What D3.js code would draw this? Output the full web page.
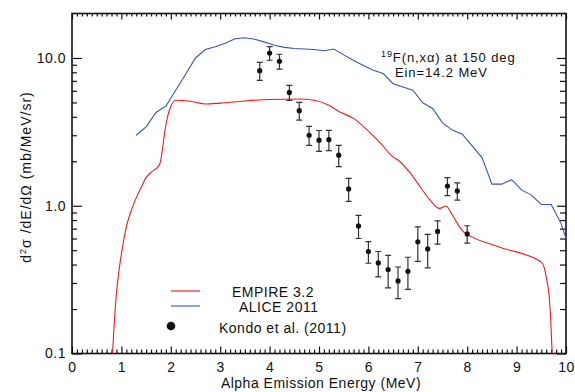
<!DOCTYPE html>
<html>
<head>
<meta charset="utf-8">
<script src="https://cdn.jsdelivr.net/npm/d3@7"></script>
<style>
    body { margin: 0; background: #fff; }
    svg { display: block; font-family: "Liberation Sans", Arial, sans-serif; }
    .lbl { font-size: 14px; fill: #111; letter-spacing: 0.5px; }
    .ann { font-size: 13px; fill: #111; letter-spacing: 0.9px; }
</style>
</head>
<body>
<div id="chart"></div>
<script>
// EMPIRE 3.2 calculation (red)
const empireE = [0.82, 0.86, 0.90, 0.95, 1.0, 1.1, 1.2, 1.3, 1.4, 1.5, 1.6, 1.7, 1.78, 1.83, 1.88, 1.95, 2.0, 2.1,
    2.4, 2.7, 3.0, 3.5, 4.0, 4.6, 4.9, 5.2, 5.4, 5.7, 6.0, 6.25, 6.5, 6.6, 6.85, 7.05, 7.25, 7.44, 7.57, 7.68,
    7.8, 7.92, 8.0, 8.66, 9.5, 9.6, 9.68, 9.72];
const empireXs = [0.1, 0.17, 0.256, 0.36, 0.47, 0.72, 0.93, 1.13, 1.33, 1.55, 1.68, 1.78, 1.93, 2.4, 3.2, 4.2, 4.7, 5.18,
    5.1, 4.88, 4.95, 5.12, 5.24, 5.28, 5.18, 4.79, 4.35, 3.9, 3.2, 2.64, 2.14, 2.04, 1.66, 1.34, 1.09, 0.96, 0.995, 0.89,
    0.76, 0.667, 0.64, 0.524, 0.415, 0.33, 0.197, 0.1];

// ALICE 2011 calculation (blue)
const aliceE = [1.3, 1.5, 1.7, 1.9, 2.1, 2.3, 2.5, 2.7, 2.9, 3.1, 3.3, 3.5, 3.7, 3.9, 4.1, 4.3, 4.5, 4.7, 4.9, 5.1,
    5.3, 5.5, 5.7, 5.9, 6.1, 6.3, 6.5, 6.9, 7.1, 7.3, 7.5, 7.7, 7.9, 8.1, 8.3, 8.5, 8.7, 8.9, 9.1, 9.3, 9.5, 9.7, 9.9, 10.0];
const aliceXs = [3.0, 3.42, 4.28, 4.72, 6.05, 7.76, 10.0, 11.4, 11.9, 12.6, 13.5, 13.7, 13.4, 12.8, 12.2, 11.8, 11.6,
    11.5, 11.4, 11.2, 11.5, 10.5, 9.6, 8.9, 8.26, 7.85, 6.7, 6.05, 4.97, 4.55, 3.64, 3.25, 3.05, 2.54, 2.12, 1.40,
    1.40, 1.50, 1.28, 1.18, 1.02, 1.02, 0.76, 0.60];

// Kondo et al. (2011) measurements
const kondoE = [3.8, 4.0, 4.2, 4.4, 4.6, 4.8, 5.0, 5.2, 5.4, 5.6, 5.8, 6.0, 6.2, 6.4, 6.6, 6.8, 7.0, 7.2, 7.4, 7.6, 7.8, 8.0];
const kondoXs = [8.2, 10.8, 9.5, 5.85, 4.4, 3.0, 2.78, 2.8, 2.2, 1.3, 0.73, 0.49, 0.41, 0.37, 0.31, 0.36, 0.57, 0.51,
    0.67, 1.36, 1.26, 0.645];
const kondoErr = [1.15, 1.15, 1.1, 0.68, 0.6, 0.44, 0.45, 0.44, 0.36, 0.23, 0.13, 0.082, 0.08, 0.092, 0.075, 0.088,
    0.15, 0.13, 0.12, 0.19, 0.17, 0.087];

const xTicks = [0, 1, 2, 3, 4, 5, 6, 7, 8, 9, 10];
const yTicks = [0.1, 1, 10];

const legendItems = ['EMPIRE 3.2', 'ALICE 2011', 'Kondo et al. (2011)'];

const W = 575, H = 392;
const mLeft = 72, mRight = 566, mTop = 13.5, mBottom = 353.5;

const red = '#ee1c1c';
const blue = '#3a55b0';

const svg = d3.select('#chart').append('svg')
    .attr('width', W)
    .attr('height', H);

const x = d3.scaleLinear().domain([0, 10]).range([mLeft, mRight]);
const y = d3.scaleLog().domain([0.1, 20]).range([mBottom, mTop]);

// minor tick values
const xMinor = d3.range(0, 101).map(i => i / 10).filter(v => Math.abs(v - Math.round(v)) > 1e-6);
const yMinor = [0.2, 0.3, 0.4, 0.5, 0.6, 0.7, 0.8, 0.9, 2, 3, 4, 5, 6, 7, 8, 9];

function axisGroup(axis, tx, ty) {
    const g = svg.append('g')
        .attr('transform', 'translate(' + tx + ',' + ty + ')')
        .call(axis);
    g.select('.domain').remove();
    g.selectAll('line').attr('stroke', '#111').attr('stroke-width', 1.2);
    return g;
}

// bottom
const gb = axisGroup(d3.axisBottom(x).tickValues(xTicks).tickSizeInner(-7).tickSizeOuter(0).tickPadding(9)
    .tickFormat(d3.format('d')), 0, mBottom);
gb.selectAll('text').attr('class', 'lbl').attr('font-family', null).attr('font-size', null);
axisGroup(d3.axisBottom(x).tickValues(xMinor).tickSize(-4).tickFormat(''), 0, mBottom);

// top
axisGroup(d3.axisTop(x).tickValues(xTicks).tickSize(-6).tickFormat(''), 0, mTop);
axisGroup(d3.axisTop(x).tickValues(xMinor).tickSize(-3).tickFormat(''), 0, mTop);

// left
const gl = axisGroup(d3.axisLeft(y).tickValues(yTicks).tickSizeInner(-10).tickSizeOuter(0).tickPadding(6)
    .tickFormat(d3.format('.1f')), mLeft, 0);
gl.selectAll('text').attr('class', 'lbl').attr('font-family', null).attr('font-size', null);
axisGroup(d3.axisLeft(y).tickValues(yMinor).tickSize(-5).tickFormat(''), mLeft, 0);

// right
axisGroup(d3.axisRight(y).tickValues(yTicks).tickSize(-9).tickFormat(''), mRight, 0);
axisGroup(d3.axisRight(y).tickValues(yMinor).tickSize(-6).tickFormat(''), mRight, 0);

// frame
svg.append('rect')
    .attr('x', mLeft).attr('y', mTop)
    .attr('width', mRight - mLeft).attr('height', mBottom - mTop)
    .attr('fill', 'none')
    .attr('stroke', '#111')
    .attr('stroke-width', 1.6);

// clip
svg.append('clipPath').attr('id', 'plot-clip')
    .append('rect')
    .attr('x', mLeft).attr('y', mTop)
    .attr('width', mRight - mLeft).attr('height', mBottom - mTop);

const plot = svg.append('g').attr('clip-path', 'url(#plot-clip)');

const redLine = d3.line()
    .x(i => x(empireE[i]))
    .y(i => y(empireXs[i]))
    .curve(d3.curveMonotoneX);

const blueLine = d3.line()
    .x(i => x(aliceE[i]))
    .y(i => y(aliceXs[i]));

plot.append('path')
    .attr('d', blueLine(d3.range(aliceE.length)))
    .attr('fill', 'none')
    .attr('stroke', blue)
    .attr('stroke-width', 1.1);

plot.append('path')
    .attr('d', redLine(d3.range(empireE.length)))
    .attr('fill', 'none')
    .attr('stroke', red)
    .attr('stroke-width', 1.1);

// data points with error bars
const pts = plot.append('g')
    .selectAll('g')
    .data(d3.range(kondoE.length))
    .join('g');

pts.append('line')
    .attr('x1', i => x(kondoE[i])).attr('x2', i => x(kondoE[i]))
    .attr('y1', i => y(kondoXs[i] + kondoErr[i])).attr('y2', i => y(kondoXs[i] - kondoErr[i]))
    .attr('stroke', '#333').attr('stroke-width', 1.2);

pts.selectAll('.cap')
    .data(i => [kondoXs[i] + kondoErr[i], kondoXs[i] - kondoErr[i]].map(v => ({ e: kondoE[i], v: v })))
    .join('line')
    .attr('class', 'cap')
    .attr('x1', d => x(d.e) - 3).attr('x2', d => x(d.e) + 3)
    .attr('y1', d => y(d.v)).attr('y2', d => y(d.v))
    .attr('stroke', '#333').attr('stroke-width', 1.2);

pts.append('circle')
    .attr('cx', i => x(kondoE[i]))
    .attr('cy', i => y(kondoXs[i]))
    .attr('r', 2.6)
    .attr('fill', '#111');

// legend
const lg = svg.append('g');
lg.append('line').attr('x1', 171).attr('x2', 200).attr('y1', 291).attr('y2', 291)
    .attr('stroke', red).attr('stroke-width', 1.1);
lg.append('line').attr('x1', 171).attr('x2', 200).attr('y1', 306).attr('y2', 306)
    .attr('stroke', blue).attr('stroke-width', 1.1);
lg.append('circle').attr('cx', 171).attr('cy', 326).attr('r', 4.3).attr('fill', '#111');
lg.append('text').attr('class', 'lbl').attr('x', 232).attr('y', 297).text(legendItems[0]);
lg.append('text').attr('class', 'lbl').attr('x', 239).attr('y', 312).text(legendItems[1]);
lg.append('text').attr('class', 'lbl').attr('x', 219).attr('y', 333).text(legendItems[2]);

// annotation
const ann = svg.append('text').attr('class', 'ann').attr('x', 381).attr('y', 62);
ann.append('tspan').attr('font-size', 9).attr('dy', -5).text('19');
ann.append('tspan').attr('dy', 5).text('F(n,xα) at 150 deg');
svg.append('text').attr('class', 'ann').attr('x', 395).attr('y', 77).text('Ein=14.2 MeV');

// axis titles
svg.append('text').attr('class', 'lbl')
    .attr('x', 321).attr('y', 388)
    .attr('text-anchor', 'middle')
    .text('Alpha Emission Energy (MeV)');

const yt = svg.append('text').attr('class', 'lbl')
    .attr('transform', 'translate(31,177) rotate(-90)')
    .attr('text-anchor', 'middle')
    .style('letter-spacing', '1px');
yt.append('tspan').text('d');
yt.append('tspan').attr('font-size', 9).attr('dy', -5).text('2');
yt.append('tspan').attr('dy', 5).text('σ /dE/dΩ (mb/MeV/sr)');
</script>
</body>
</html>
